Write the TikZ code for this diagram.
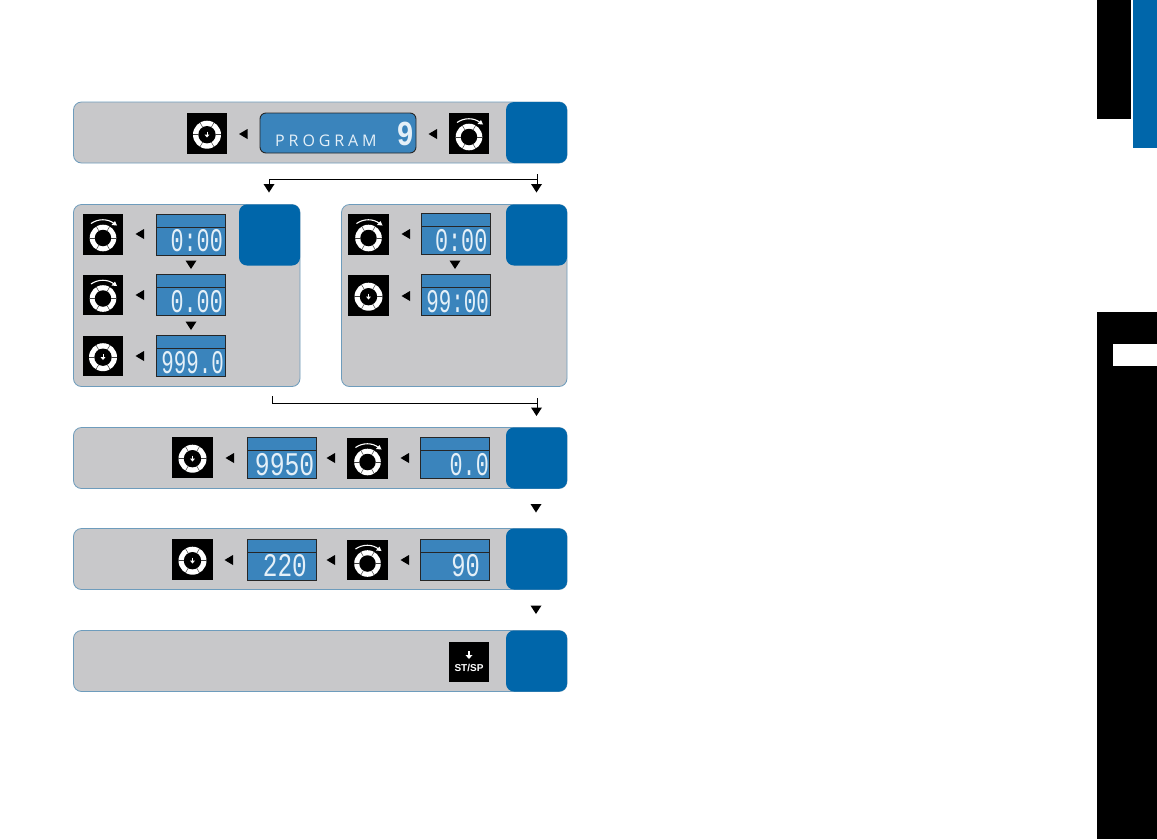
\documentclass[tikz,border=0pt]{standalone}
\usepackage{fontspec}
\setmainfont{Liberation Sans}
\newfontfamily\lcdfont{Liberation Mono}
\newfontfamily\progfont{Open Sans}
\definecolor{panelgrey}{HTML}{C8C8CA}
\definecolor{paneledge}{HTML}{6E9CBC}
\definecolor{tabblue}{HTML}{0066AA}
\definecolor{lcdblue}{HTML}{3A84BC}
\definecolor{lcdtext}{HTML}{E4F0F8}
\tikzset{
  x=1pt,y=-1pt,
  panelbox/.style={fill=panelgrey,draw=paneledge,line width=.8pt,rounded corners=8pt,inner sep=0pt,outer sep=0pt,anchor=north west},
  tabbox/.style={fill=tabblue,rounded corners=8pt,minimum width=61pt,minimum height=61pt,inner sep=0pt,outer sep=0pt,anchor=north west},
  lcdbox/.style={fill=lcdblue,draw=black!85,line width=.9pt,minimum width=69pt,minimum height=41pt,inner sep=0pt,outer sep=0pt,anchor=north west},
  iconbox/.style={fill=black,minimum size=40.5pt,inner sep=0pt,outer sep=0pt},
  flow/.style={draw=black,line width=.8pt},
  lcdnum/.style={text=lcdtext,font=\lcdfont\fontsize{33}{33}\selectfont,inner sep=0pt,anchor=south east,transform shape},
}
\newcommand{\ringat}[3]{% x y radius
  \fill[white] (#1,#2) circle[radius=#3];
  \fill[black] (#1,#2) circle[radius=#3*.62];
  \foreach \a in {0,60,120,180,240,300}
    \draw[black!75,line width=.5pt] (#1,#2) ++(\a:#3*.6) -- ++(\a:#3*.42);
}
\newcommand{\pressicon}[3]{%
  \node[iconbox] (#1) at (#2,#3) {};
  \ringat{#2}{#3+1.2}{14}
  \draw[white,line width=1pt] (#2,#3-2) -- (#2,#3+1.5);
  \fill[white] (#2-2.4,#3+1.2) -- (#2+2.4,#3+1.2) -- (#2,#3+4) -- cycle;
}
\newcommand{\dialicon}[3]{%
  \node[iconbox] (#1) at (#2,#3) {};
  \ringat{#2}{#3+3.5}{13.3}
  \draw[white,line width=1.1pt] (#2-12,#3-11) .. controls (#2-5,#3-16) and (#2+5,#3-16) .. (#2+11,#3-11);
  \fill[white] (#2+14,#3-9) -- (#2+8.5,#3-9.5) -- (#2+12,#3-13.5) -- cycle;
}
% lcd: name left top text xscale right-inset
\newcommand{\lcd}[6]{%
  \node[lcdbox] (#1) at (#2,#3) {};
  \draw[black!85,line width=.9pt] (#2,#3+13) -- (#2+69,#3+13);
  \node[lcdnum,xscale=#5] at (#2+69-#6,#3+38.5) {#4};
}
\newcommand{\lefttip}[2]{\fill[black] (#1-4.5,#2) -- (#1+4,#2-5) -- (#1+4,#2+5) -- cycle;}
\newcommand{\downtip}[2]{\fill[black] (#1-5.5,#2) -- (#1+5.5,#2) -- (#1,#2+8.5) -- cycle;}
\begin{document}
\begin{tikzpicture}
\useasboundingbox (0,0) rectangle (1157,839);
\fill[white] (0,0) rectangle (1157,839);
% side marks
\fill[black] (1097,0) rectangle (1131,119);
\fill[tabblue] (1133,0) rectangle (1157,148);
\fill[black] (1097,312) rectangle (1157,839);
\fill[white] (1113,344) rectangle (1157,366);
% panels
\node[panelbox,minimum width=493.5pt,minimum height=61pt] (p1) at (73.5,102) {};
\node[panelbox,minimum width=226.5pt,minimum height=182pt] (p2) at (73.5,204.5) {};
\node[panelbox,minimum width=225.5pt,minimum height=182pt] (p3) at (341.5,204.5) {};
\node[panelbox,minimum width=493.5pt,minimum height=61pt] (p4) at (73.5,427.5) {};
\node[panelbox,minimum width=493.5pt,minimum height=61pt] (p5) at (73.5,528.5) {};
\node[panelbox,minimum width=493.5pt,minimum height=61pt] (p6) at (73.5,630.5) {};
% tabs
\foreach \n/\x/\y in {t1/506/102,t2/239/204.5,t3/506/204.5,t4/506/427.5,t5/506/528.5,t6/506/630.5}
  \node[tabbox] (\n) at (\x,\y) {};
% panel 1
\pressicon{a1}{207}{133.5}
\lefttip{243.5}{134}
\node[fill=lcdblue,draw=black!85,line width=.9pt,rounded corners=6pt,minimum width=156pt,minimum height=40pt,inner sep=0pt,outer sep=0pt,anchor=north west] (prog) at (260,113) {};
\node[text=lcdtext,font=\progfont\fontsize{16}{16}\selectfont,inner sep=0pt,anchor=base west] (progtxt) at (275,146) {P\kern3.9ptR\kern3.9ptO\kern3.9ptG\kern3.9ptR\kern3.9ptA\kern3.9ptM};
\node[lcdnum,font=\lcdfont\bfseries\fontsize{35}{35}\selectfont,xscale=.82] (prognum) at (414,146.5) {9};
\lefttip{433}{134}
\dialicon{a2}{469}{133.5}
% top connector
\coordinate (c1a) at (537,174);
\coordinate (c1b) at (537,179);
\coordinate (c1c) at (269,179);
\coordinate (c1d) at (269,184);
\coordinate (c1e) at (537,184);
\draw[flow] (c1a) -- (c1e);
\draw[flow] (c1b) -- (c1c) -- (c1d);
\downtip{269}{184}
\downtip{536.5}{184}
% panel 2
\dialicon{b1}{103}{234.5}
\lefttip{140}{234}
\lcd{b1l}{156}{214}{0:00}{.66}{2}
\downtip{191}{260.5}
\dialicon{b2}{103}{295}
\lefttip{140}{295}
\lcd{b2l}{156}{274.5}{0.00}{.66}{2}
\downtip{191}{321.5}
\pressicon{b3}{103}{356}
\lefttip{140}{356}
\lcd{b3l}{156}{335.5}{999.0}{.63}{1}
% panel 3
\dialicon{d1}{368.5}{234.5}
\lefttip{406}{234}
\lcd{d1l}{421}{213.5}{0:00}{.66}{2.5}
\downtip{455}{260.5}
\pressicon{d2}{368.5}{295.5}
\lefttip{406}{296}
\lcd{d2l}{421}{274.5}{99:00}{.63}{1}
% middle connector
\coordinate (c2a) at (272,396);
\coordinate (c2b) at (272,403);
\coordinate (c2c) at (537,403);
\coordinate (c2d) at (537,398);
\coordinate (c2e) at (537,408);
\draw[flow] (c2a) -- (c2b) -- (c2c);
\draw[flow] (c2d) -- (c2e);
\downtip{536.5}{407.5}
% panel 4
\pressicon{e1}{192.5}{457.5}
\lefttip{230}{458}
\lcd{e1l}{247}{437.5}{9950}{.75}{1.5}
\lefttip{331}{458}
\dialicon{e2}{367.5}{458.5}
\lefttip{405}{458}
\lcd{e2l}{420}{437.5}{0.0}{.66}{0}
\downtip{536}{504}
% panel 5
\pressicon{f1}{192.5}{559.5}
\lefttip{229}{560}
\lcd{f1l}{247}{539}{220}{.74}{9}
\lefttip{331}{560}
\dialicon{f2}{367.5}{560}
\lefttip{405}{560}
\lcd{f2l}{420}{539}{90}{.72}{9}
\downtip{536}{605.5}
% panel 6
\node[iconbox] (g1) at (469,662) {};
\node[text=white,font=\bfseries\fontsize{10}{10}\selectfont,inner sep=0pt] (g1t) at (469,667.5) {ST/SP};
\draw[white,line width=1.2pt] (469,651) -- (469,656);
\fill[white] (465.5,655) -- (472.5,655) -- (469,659) -- cycle;
\end{tikzpicture}
\end{document}
